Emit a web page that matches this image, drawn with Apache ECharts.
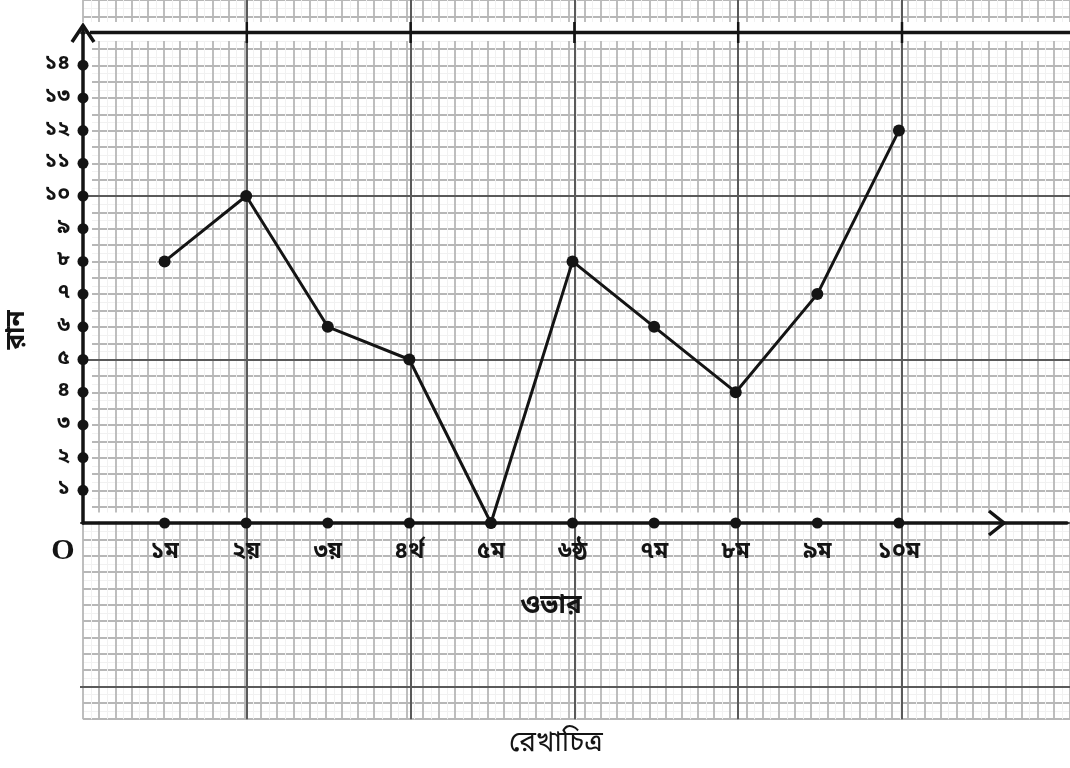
<!DOCTYPE html>
<html>
<head>
<meta charset="utf-8">
<script src="https://cdn.jsdelivr.net/npm/echarts@6/dist/echarts.min.js"></script>
<style>
  html, body { margin: 0; padding: 0; background: #fff; }
  #chart { width: 1070px; height: 768px; }
</style>
</head>
<body>
<div id="chart"></div>
<script>
// Runs scored in each over
const overs = ['১ম', '২য়', '৩য়', '৪র্থ', '৫ম', '৬ষ্ঠ', '৭ম', '৮ম', '৯ম', '১০ম'];
const runs = [8, 10, 6, 5, 0, 8, 6, 4, 7, 12];
const runTicks = ['১', '২', '৩', '৪', '৫', '৬', '৭', '৮', '৯', '১০', '১১', '১২', '১৩', '১৪'];

// Page layout: origin and pixels per unit on each axis
const X0 = 83, Y0 = 523, UX = 81.9, UY = 32.7;
const MX = UX / 5, MY = UY / 2;          // small squares of the graph paper
const INK = '#141414';
const BN = '"Noto Sans Bengali","Lohit Bengali","FreeSerif","Noto Sans",sans-serif';

const hidden = { show: false };
const paperTop = Y0 - 32 * MY, paperH = 44 * MY;
const thin = { show: true, lineStyle: { color: '#b7b7b7', width: 1.8, type: 'solid' } };
const faint = { show: true, lineStyle: { color: '#f1f1f1', width: 1, type: 'solid' } };
const heavy = { show: true, lineStyle: { color: '#5a5a5a', width: 2, type: 'solid' } };

const chart = echarts.init(document.getElementById('chart'), null, { renderer: 'canvas' });

const option = {
  animation: false,
  backgroundColor: '#fff',
  title: {
    text: 'রেখাচিত্র',
    left: 551, top: 727, textAlign: 'center',
    textStyle: { fontFamily: BN, fontSize: 28, fontWeight: 'normal', color: INK }
  },
  grid: [
    // graph paper: small squares
    { left: X0, top: paperTop, width: 61 * MX, height: paperH },
    // graph paper: heavy vertical rules
    { left: X0 + 2 * UX, top: paperTop, width: 8 * UX, height: paperH },
    // graph paper: heavy horizontal rules
    { left: 80, top: Y0 - 15 * UY, width: 995, height: 20 * UY },
    // the plot itself
    { left: X0, top: Y0 - 15 * UY, width: 12.06 * UX, height: 15 * UY }
  ],
  xAxis: [
    {
      gridIndex: 0, type: 'value', min: 0, max: 61, interval: 1, z: 0,
      axisLine: hidden, axisTick: hidden, axisLabel: hidden,
      minorTick: { show: false, splitNumber: 2 },
      splitLine: thin, minorSplitLine: faint
    },
    {
      gridIndex: 1, type: 'value', min: 2, max: 10, interval: 2, z: 2,
      axisLine: hidden, axisTick: hidden, axisLabel: hidden, splitLine: heavy
    },
    {
      gridIndex: 2, type: 'value', min: 0, max: 1, z: 2,
      axisLine: hidden, axisTick: hidden, axisLabel: hidden, splitLine: hidden
    },
    {
      gridIndex: 3, type: 'value', min: 0, max: 12.06, interval: 1, z: 3,
      axisLine: { show: true, onZero: false, lineStyle: { color: INK, width: 3.5 } },
      axisTick: hidden, splitLine: hidden,
      axisLabel: {
        show: true, margin: 19,
        fontFamily: BN, fontSize: 23, fontWeight: 'bold', color: INK,
        formatter: v => overs[v - 1] || ''
      }
    }
  ],
  yAxis: [
    {
      gridIndex: 0, type: 'value', min: -12, max: 32, interval: 1, z: 0,
      axisLine: hidden, axisTick: hidden, axisLabel: hidden,
      minorTick: { show: false, splitNumber: 2 },
      splitLine: thin, minorSplitLine: faint
    },
    {
      gridIndex: 1, type: 'value', min: 0, max: 1, z: 2,
      axisLine: hidden, axisTick: hidden, axisLabel: hidden, splitLine: hidden
    },
    {
      gridIndex: 2, type: 'value', min: -5, max: 15, interval: 5, z: 2,
      axisLine: hidden, axisTick: hidden, axisLabel: hidden, splitLine: heavy
    },
    {
      gridIndex: 3, type: 'value', min: 0, max: 15, interval: 1, z: 3,
      axisLine: { show: true, onZero: false, lineStyle: { color: INK, width: 3.5 } },
      axisTick: hidden, splitLine: hidden,
      axisLabel: {
        show: true, margin: 13,
        fontFamily: BN, fontSize: 21, fontWeight: 'bold', color: INK,
        formatter: v => runTicks[v - 1] || ''
      }
    }
  ],
  series: [
    {
      name: 'ticks', type: 'scatter', xAxisIndex: 3, yAxisIndex: 3,
      symbol: 'circle', symbolSize: 11, z: 4, clip: false, silent: true,
      itemStyle: { color: INK, opacity: 1 },
      data: runTicks.map((_, i) => [0, i + 1]).concat(overs.map((_, i) => [i + 1, 0]))
    },
    {
      name: 'রান', type: 'line', xAxisIndex: 3, yAxisIndex: 3,
      symbol: 'circle', symbolSize: 12, z: 5, clip: false,
      lineStyle: { color: INK, width: 3 },
      itemStyle: { color: INK, opacity: 1 },
      data: runs.map((v, i) => [i + 1, v])
    }
  ],
  graphic: []
};

// White margins left around the axes on the graph paper
const g = [];
g.push({ type: 'rect', z: 1, silent: true, shape: { x: 70, y: 22, width: 1010, height: 19 }, style: { fill: '#fff' } });
g.push({ type: 'rect', z: 1, silent: true, shape: { x: 0, y: 41, width: 92, height: 472 }, style: { fill: '#fff' } });
g.push({ type: 'rect', z: 1, silent: true, shape: { x: X0, y: 512.5, width: 1000, height: 9 }, style: { fill: '#fff' } });

// Top rule and the heavy verticals crossing it
const topY = Y0 - 15 * UY;
g.push({ type: 'line', z: 6, silent: true, shape: { x1: 90, y1: topY, x2: 1070, y2: topY }, style: { stroke: INK, lineWidth: 3.5 } });
for (let k = 1; k <= 5; k++) {
  const x = X0 + 2 * k * UX;
  g.push({ type: 'line', z: 6, silent: true, shape: { x1: x, y1: 22, x2: x, y2: 43 }, style: { stroke: INK, lineWidth: 2.5 } });
}
// Axis arrowheads
g.push({ type: 'line', z: 6, silent: true, shape: { x1: X0, y1: 25, x2: X0, y2: topY + 2 }, style: { stroke: INK, lineWidth: 3.5 } });
g.push({ type: 'polyline', z: 6, silent: true, shape: { points: [[72, 42], [X0, 25.5], [94, 42]] }, style: { stroke: INK, lineWidth: 3.5, fill: null } });
g.push({ type: 'polyline', z: 6, silent: true, shape: { points: [[989, 511], [1004, Y0], [989, 535]] }, style: { stroke: INK, lineWidth: 3.5, fill: null } });

// Origin mark and axis names
g.push({ type: 'text', z: 6, silent: true, x: 63, y: 551, style: { text: 'O', fill: INK, font: 'bold 30px "Liberation Serif","DejaVu Serif",serif', align: 'center', verticalAlign: 'middle' } });
g.push({ type: 'text', z: 6, silent: true, x: 551, y: 608, style: { text: 'ওভার', fill: INK, font: 'bold 26px ' + BN, align: 'center', verticalAlign: 'middle' } });
g.push({ type: 'text', z: 6, silent: true, x: 19, y: 330, rotation: Math.PI / 2, style: { text: 'রান', fill: INK, font: 'bold 26px ' + BN, align: 'center', verticalAlign: 'middle' } });

option.graphic = g;
chart.setOption(option);
</script>
</body>
</html>
